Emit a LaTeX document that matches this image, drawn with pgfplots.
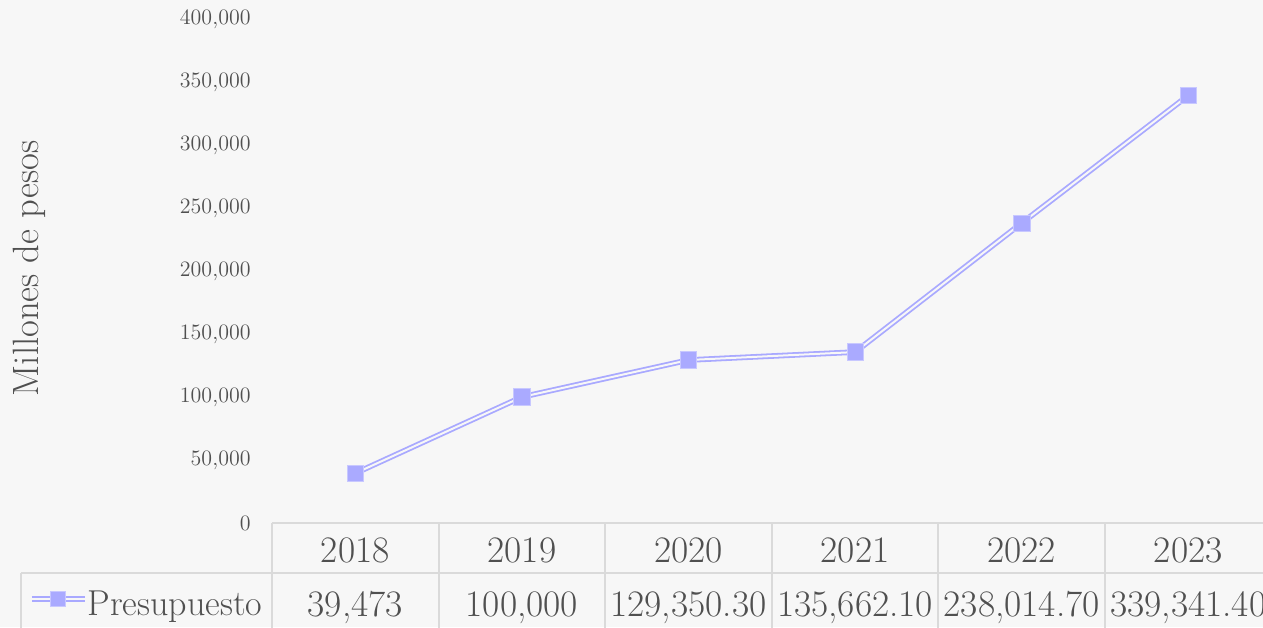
\documentclass[border=0pt]{standalone}
\usepackage{pgfplots}
\pgfplotsset{compat=1.18}
\usepackage{pgfplotstable}
\definecolor{bg}{HTML}{F7F7F7}
\definecolor{ln}{HTML}{A9A9FF}
\definecolor{mk}{HTML}{AAAAFF}
\definecolor{mkb}{HTML}{C8C8FF}
\definecolor{tx}{HTML}{505050}
\definecolor{gr}{HTML}{DADADA}
\pgfplotstableread{
x y
0 39473
1 100000
2 129350.3
3 135662.1
4 238014.7
5 339341.4
}\data
\begin{document}
\begin{tikzpicture}[x=1pt,y=1pt]
\fill[bg] (0,0) rectangle (631.5,313.5);
\draw[gr, line width=1pt] (136,52) -- (640,52);
\draw[gr, line width=1pt] (10.5,27) -- (640,27);
\draw[gr, line width=1pt] (10.5,27) -- (10.5,-2);
\foreach \i in {0,...,5} \draw[gr,line width=1pt] ({136+83.3*\i},52) -- ({136+83.3*\i},-2);
\begin{axis}[
 at={(136pt,52pt)}, anchor=south west, scale only axis,
 width=499.8pt, height=252pt,
 xmin=-0.5, xmax=5.5, ymin=0, ymax=400000,
 axis line style={draw=none}, major tick style={draw=none},
 clip=false,
 ytick={0,50000,100000,150000,200000,250000,300000,350000,400000},
 scaled y ticks=false,
 yticklabel style={font=\fontsize{11}{13}\selectfont, text=tx, inner sep=0pt, xshift=-10.5pt,
   /pgf/number format/.cd, fixed, 1000 sep={,}, assume math mode=true},
 xtick={0,1,2,3,4,5},
 xticklabels={2018,2019,2020,2021,2022,2023},
 xticklabel style={font=\fontsize{18.7}{22}\selectfont, text=tx, inner sep=0pt, anchor=base, yshift=-19.5pt},
 extra x ticks={0,1,2,3,4,5},
 extra x tick labels={{39,473},{100,000},{129,350.30},{135,662.10},{238,014.70},{339,341.40}},
 extra x tick style={xticklabel style={yshift=-27pt}},
 ylabel={Millones de pesos},
 every axis y label/.style={at={(axis description cs:-0.2431,0.505)}, rotate=90, anchor=center,
   font=\fontsize{18.3}{22}\selectfont, text=tx},
 legend style={at={(axis description cs:-0.2431,-0.1625)}, anchor=west, draw=none, fill=none,
   inner sep=0pt, outer sep=0pt, font=\fontsize{18}{22}\selectfont, text=tx,
   nodes={inner sep=0pt},
   /tikz/every even column/.style={column sep=3.5pt}},
 legend image code/.code={
   \draw[ln, line width=2.8pt] (0pt,3pt)--(26.5pt,3pt);
   \draw[bg, line width=1.0pt] (0pt,3pt)--(26.5pt,3pt);
   \fill[mk, draw=mkb, line width=0.4pt] (9.5pt,-0.75pt) rectangle (17pt,6.75pt);
 },
]
\addplot[ln, line width=2.8pt, line join=round, forget plot] table[x=x,y=y] {\data};
\addplot[bg, line width=1.0pt, line join=round, forget plot] table[x=x,y=y] {\data};
\addplot[only marks, mark=square*, mark size=4.1pt, mark options={fill=mk, draw=mkb, line width=0.4pt}] table[x=x,y=y] {\data};
\addlegendentry{Presupuesto}
\end{axis}
\pgfresetboundingbox
\useasboundingbox (0,0) rectangle (631.5,313.5);
\end{tikzpicture}
\end{document}
